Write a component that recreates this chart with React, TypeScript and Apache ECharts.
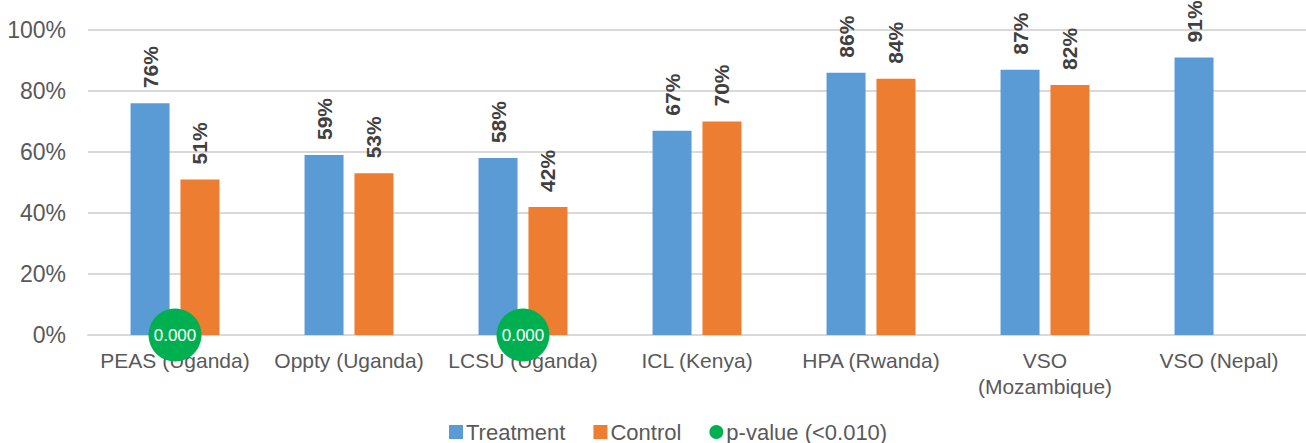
import React, { useEffect, useRef } from "react";
import * as echarts from "echarts";

const categories = [
  "PEAS (Uganda)",
  "Oppty (Uganda)",
  "LCSU (Uganda)",
  "ICL (Kenya)",
  "HPA (Rwanda)",
  "VSO\n(Mozambique)",
  "VSO (Nepal)",
];
const treatment = [76, 59, 58, 67, 86, 87, 91];
const control: (number | null)[] = [51, 53, 42, 70, 84, 82, null];
const pValue: (number | null)[] = [0, null, 0, null, null, null, null];
const pValueLabels = ["0.000", "", "0.000", "", "", "", ""];
const yTicks = [0, 20, 40, 60, 80, 100];

export default function App() {
  const ref = useRef<HTMLDivElement>(null);
  useEffect(() => {
    document.body.style.margin = "0";
    const chart = echarts.init(ref.current!, null, { renderer: "svg" });
    const font = "Liberation Sans, Arial, sans-serif";
    const barLabel = {
      show: true,
      position: "top",
      rotate: 90,
      align: "left",
      verticalAlign: "middle",
      distance: 15,
      fontSize: 21,
      fontWeight: "bold",
      color: "#404040",
      fontFamily: font,
      formatter: (p: any) => `${p.value}%`,
    };
    chart.setOption({
      animation: false,
      textStyle: { fontFamily: font },
      grid: { left: 88, top: 30, width: 1220, height: 305, containLabel: false },
      legend: {
        top: 416,
        left: 444,
        itemWidth: 14,
        itemHeight: 14,
        itemGap: 28,
        textStyle: { fontSize: 22, color: "#595959", fontFamily: font, padding: [0, 0, 0, -2] },
        data: [
          { name: "Treatment", icon: "rect" },
          { name: "Control", icon: "rect" },
          { name: "p-value (<0.010)", icon: "circle" },
        ],
      },
      xAxis: {
        type: "category",
        data: categories,
        axisLine: { lineStyle: { color: "#d9d9d9", width: 2 } },
        axisTick: { show: false },
        axisLabel: {
          fontSize: 21,
          color: "#595959",
          margin: 12,
          lineHeight: 26,
          interval: 0,
          fontFamily: font,
        },
        z: 1,
      },
      yAxis: {
        type: "value",
        min: yTicks[0],
        max: yTicks[yTicks.length - 1],
        interval: 20,
        axisLabel: {
          formatter: "{value}%",
          fontSize: 23,
          color: "#595959",
          margin: 22,
          fontFamily: font,
        },
        splitLine: { lineStyle: { color: "#d9d9d9", width: 2 } },
        axisLine: { show: false },
        axisTick: { show: false },
      },
      series: [
        {
          name: "Treatment",
          type: "bar",
          data: treatment,
          barWidth: 39,
          barGap: "28%",
          itemStyle: { color: "#5b9bd5" },
          label: barLabel,
        },
        {
          name: "Control",
          type: "bar",
          data: control,
          barWidth: 39,
          itemStyle: { color: "#ed7d31" },
          label: barLabel,
        },
        {
          name: "p-value (<0.010)",
          type: "scatter",
          data: pValue,
          symbolSize: 53,
          itemStyle: { color: "#00b050", opacity: 1 },
          z: 10,
          label: {
            show: true,
            position: "inside",
            color: "#ffffff",
            fontSize: 17,
            fontFamily: font,
            formatter: (p: any) => pValueLabels[p.dataIndex],
          },
        },
      ],
    });
    return () => chart.dispose();
  }, []);
  return <div ref={ref} style={{ width: 1306, height: 443 }} />;
}
